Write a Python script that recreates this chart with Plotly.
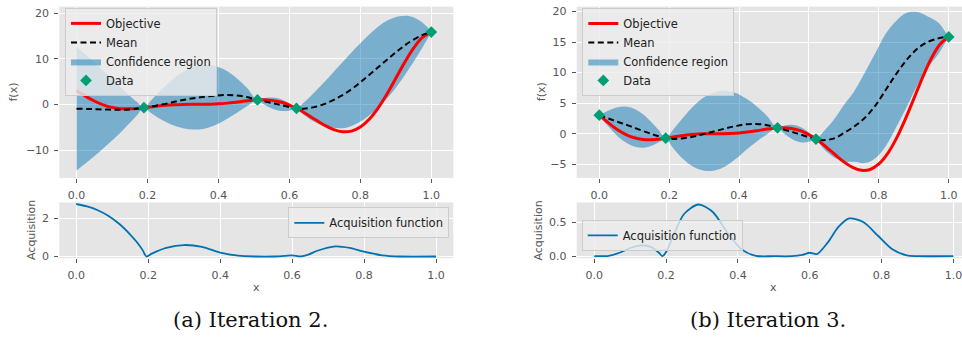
import plotly.graph_objects as go

# ---------------- data ----------------
X_OBJ = [0.0, 0.025, 0.05, 0.075, 0.1, 0.125, 0.15, 0.175, 0.2, 0.225, 0.25, 0.275,
         0.3, 0.325, 0.35, 0.375, 0.4, 0.425, 0.45, 0.475, 0.5, 0.525, 0.55, 0.575,
         0.6, 0.625, 0.65, 0.675, 0.7, 0.725, 0.75, 0.775, 0.8, 0.825, 0.85, 0.875,
         0.9, 0.925, 0.95, 0.975, 1.0]
OBJECTIVE = [3.03, 1.81, 0.74, -0.10, -0.66, -0.94, -0.98, -0.85, -0.64, -0.41, -0.21, -0.08,
             -0.02, 0.00, 0.00, 0.03, 0.11, 0.27, 0.48, 0.72, 0.91, 0.99, 0.87, 0.50,
             -0.15, -1.07, -2.21, -3.44, -4.61, -5.52, -5.99, -5.85, -4.95, -3.25, -0.80, 2.27,
             5.71, 9.19, 12.30, 14.65, 15.83]

X_GP = [0.00, 0.03, 0.06, 0.09, 0.12, 0.15, 0.17, 0.19,
        0.21, 0.24, 0.27, 0.30, 0.33, 0.36, 0.39, 0.42, 0.45, 0.48, 0.51,
        0.53, 0.55, 0.565, 0.58, 0.60, 0.62,
        0.64, 0.67, 0.70, 0.73, 0.76, 0.79, 0.82, 0.85, 0.88, 0.91, 0.94, 0.97, 0.99, 1.00]

# iteration 2 posterior: mean and half-width of the confidence region
MEAN_2 = [-0.95, -1.0, -1.08, -1.15, -1.2, -1.1, -0.95, -0.73,
          -0.5, -0.05, 0.45, 0.95, 1.35, 1.65, 1.9, 2.05, 1.95, 1.6, 0.96,
          0.65, 0.32, 0.05, -0.22, -0.58, -0.87,
          -0.95, -0.6, 0.1, 1.2, 2.5, 4.2, 6.1, 8.1, 10.1, 12.0, 13.7, 15.0, 15.6, 15.83]
HALF_2 = [13.55, 11.6, 9.6, 7.5, 5.3, 3.0, 1.5, 0.0,
          1.37, 3.3, 4.95, 6.17, 6.87, 6.97, 6.47, 5.41, 3.89, 2.03, 0.0,
          0.75, 1.2, 1.35, 1.25, 0.8, 0.0,
          1.3, 3.2, 4.9, 6.4, 7.6, 8.4, 8.8, 8.9, 8.4, 7.3, 5.6, 3.2, 1.2, 0.0]
DATA_X_2 = [0.19, 0.51, 0.62, 1.0]
DATA_Y_2 = [-0.73, 0.96, -0.87, 15.83]

# iteration 3 posterior
MEAN_3 = [3.03, 2.4, 1.8, 1.2, 0.55, -0.05, -0.4, -0.73,
          -0.85, -0.75, -0.45, -0.05, 0.4, 0.85, 1.25, 1.55, 1.6, 1.4, 0.96,
          0.65, 0.32, 0.05, -0.22, -0.58, -0.87,
          -1.05, -0.8, 0.1, 1.2, 2.6, 4.6, 7.2, 9.8, 12.1, 13.9, 15.0, 15.6, 15.8, 15.83]
HALF_3 = [0.0, 1.47, 2.6, 3.09, 2.85, 1.9, 1.0, 0.0,
          1.4, 3.4, 5.0, 6.0, 6.4, 6.2, 5.4, 4.2, 2.9, 1.5, 0.0,
          0.7, 1.15, 1.3, 1.2, 0.75, 0.0,
          1.3, 3.0, 4.6, 5.8, 7.4, 8.6, 9.2, 8.7, 7.7, 6.0, 4.2, 2.6, 0.9, 0.0]
DATA_X_3 = [0.0, 0.19, 0.51, 0.62, 1.0]
DATA_Y_3 = [3.03, -0.73, 0.96, -0.87, 15.83]

# acquisition functions
ACQ_X_2 = [0.0, 0.03, 0.06, 0.09, 0.12, 0.15, 0.17, 0.185, 0.195, 0.21, 0.25, 0.30, 0.35, 0.40,
           0.45, 0.50, 0.55, 0.58, 0.60, 0.625, 0.645, 0.67, 0.72, 0.76, 0.80, 0.85, 0.90, 1.0]
ACQ_Y_2 = [2.75, 2.62, 2.42, 2.12, 1.7, 1.15, 0.72, 0.32, 0.0, 0.15, 0.45, 0.6, 0.5, 0.2,
           0.04, 0.0, 0.0, 0.03, 0.06, 0.01, 0.1, 0.3, 0.53, 0.45, 0.25, 0.06, 0.0, 0.0]
ACQ_X_3 = [0.0, 0.04, 0.07, 0.10, 0.13, 0.16, 0.18, 0.19, 0.20, 0.22, 0.25, 0.29, 0.33, 0.37,
           0.41, 0.45, 0.50, 0.55, 0.58, 0.60, 0.62, 0.65, 0.68, 0.71, 0.75, 0.79, 0.83, 0.87,
           0.90, 1.0]
ACQ_Y_3 = [0.0, 0.005, 0.05, 0.12, 0.16, 0.13, 0.05, 0.0, 0.06, 0.3, 0.62, 0.76, 0.65, 0.35,
           0.1, 0.005, 0.0, 0.0, 0.02, 0.05, 0.03, 0.2, 0.43, 0.555, 0.5, 0.3, 0.1, 0.01,
           0.0, 0.0]

X_TICKS = [0.0, 0.2, 0.4, 0.6, 0.8, 1.0]
CAPTIONS = ["(a) Iteration 2.", "(b) Iteration 3."]

# ---------------- styling ----------------
W, H = 962, 349
RED = "#FF0000"
BLUE = "#0072B2"
GREEN = "#009E73"
BAND = "rgba(0,114,178,0.47)"
TICK_GREY = "#555555"
FONT = "DejaVu Sans"


def fx(p):
    return p / W


def fy(p):
    return 1 - p / H


fig = go.Figure()


def add_gp_panel(xa, ya, legend, mean, half, dx, dy):
    lower = [m - h for m, h in zip(mean, half)]
    upper = [m + h for m, h in zip(mean, half)]
    fig.add_trace(go.Scatter(x=X_GP, y=lower, mode="lines", line=dict(width=0, shape="spline"),
                             showlegend=False, hoverinfo="skip", xaxis=xa, yaxis=ya,
                             legend=legend))
    fig.add_trace(go.Scatter(x=X_GP, y=upper, mode="lines", line=dict(width=0, shape="spline"),
                             fill="tonexty", fillcolor=BAND, name="Confidence region",
                             legendrank=3, xaxis=xa, yaxis=ya, legend=legend))
    fig.add_trace(go.Scatter(x=X_OBJ, y=OBJECTIVE, mode="lines", name="Objective",
                             line=dict(color=RED, width=3, shape="spline"),
                             legendrank=1, xaxis=xa, yaxis=ya, legend=legend))
    fig.add_trace(go.Scatter(x=X_GP, y=mean, mode="lines", name="Mean",
                             line=dict(color="black", width=2, dash="6px,3.5px", shape="spline"),
                             legendrank=2, xaxis=xa, yaxis=ya, legend=legend))
    fig.add_trace(go.Scatter(x=dx, y=dy, mode="markers", name="Data",
                             marker=dict(symbol="diamond", size=9, color=GREEN),
                             legendrank=4, xaxis=xa, yaxis=ya, legend=legend))


add_gp_panel("x", "y", "legend", MEAN_2, HALF_2, DATA_X_2, DATA_Y_2)
fig.add_trace(go.Scatter(x=ACQ_X_2, y=ACQ_Y_2, mode="lines", name="Acquisition function",
                         line=dict(color=BLUE, width=1.8, shape="spline", smoothing=0.8),
                         xaxis="x2", yaxis="y2", legend="legend3"))
add_gp_panel("x3", "y3", "legend2", MEAN_3, HALF_3, DATA_X_3, DATA_Y_3)
fig.add_trace(go.Scatter(x=ACQ_X_3, y=ACQ_Y_3, mode="lines", name="Acquisition function",
                         line=dict(color=BLUE, width=1.8, shape="spline", smoothing=0.8),
                         xaxis="x4", yaxis="y4", legend="legend4"))

axis_common = dict(showgrid=True, gridcolor="white", gridwidth=1, zeroline=False,
                   showline=False, ticks="outside", ticklen=4, tickwidth=1,
                   tickcolor=TICK_GREY, ticklabelstandoff=3, ticklabeloverflow="allow",
                   tickfont=dict(family=FONT, size=11, color=TICK_GREY))

top_dom = [fy(180), fy(5.7)]
bot_dom = [fy(261.7), fy(205)]
left_dom = [fx(59.3), fx(453.3)]
right_dom = [fx(576.7), 1.0]

fig.update_layout(
    xaxis=dict(axis_common, domain=left_dom, anchor="y", range=[-0.0485, 1.062],
               tickvals=X_TICKS, tickformat=".1f"),
    yaxis=dict(axis_common, domain=top_dom, anchor="x", range=[-16.1, 21.4],
               tickvals=[-10, 0, 10, 20]),
    xaxis2=dict(axis_common, domain=left_dom, anchor="y2", range=[-0.047, 1.048],
                tickvals=X_TICKS, tickformat=".1f"),
    yaxis2=dict(axis_common, domain=bot_dom, anchor="x2", range=[-0.09, 2.83],
                tickvals=[0, 2]),
    xaxis3=dict(axis_common, domain=right_dom, anchor="y3", range=[-0.0647, 1.038],
                tickvals=X_TICKS, tickformat=".1f"),
    yaxis3=dict(axis_common, domain=top_dom, anchor="x3", range=[-7.23, 20.8],
                tickvals=[-5, 0, 5, 10, 15, 20]),
    xaxis4=dict(axis_common, domain=right_dom, anchor="y4", range=[-0.049, 1.024],
                tickvals=X_TICKS, tickformat=".1f"),
    yaxis4=dict(axis_common, domain=bot_dom, anchor="x4", range=[-0.03, 0.79],
                tickvals=[0.0, 0.5], tickformat=".1f"),
)

legend_common = dict(bgcolor="rgba(236,236,236,0.8)", bordercolor="#CCCCCC", borderwidth=1,
                     font=dict(family=FONT, size=11.5, color="#222222"),
                     xanchor="left", yanchor="top", itemwidth=30, traceorder="normal")
fig.update_layout(
    legend=dict(legend_common, x=fx(65), y=fy(7)),
    legend2=dict(legend_common, x=fx(582.3), y=fy(7)),
    legend3=dict(legend_common, x=fx(288.3), y=fy(210)),
    legend4=dict(legend_common, x=fx(581.7), y=fy(222.7)),
)

label_font = dict(family=FONT, size=11, color=TICK_GREY)
annotations = [
    dict(text="f(x)", x=fx(13.3), y=fy(92.8), textangle=-90),
    dict(text="Acquisition", x=fx(31.7), y=fy(233.3), textangle=-90),
    dict(text="x", x=fx(256), y=fy(291.7)),
    dict(text="f(x)", x=fx(541), y=fy(92.8), textangle=-90),
    dict(text="Acquisition", x=fx(538.3), y=fy(233.3), textangle=-90),
    dict(text="x", x=fx(773.5), y=fy(291.7)),
]
for a in annotations:
    a.update(xref="paper", yref="paper", showarrow=False, font=label_font,
             xanchor="center", yanchor="middle")
cap_font = dict(family="DejaVu Serif", size=21, color="#111111")
annotations += [
    dict(text=CAPTIONS[0], x=fx(250), y=fy(325), xref="paper", yref="paper",
         showarrow=False, font=cap_font, xanchor="center", yanchor="middle"),
    dict(text=CAPTIONS[1], x=fx(768), y=fy(325), xref="paper", yref="paper",
         showarrow=False, font=cap_font, xanchor="center", yanchor="middle"),
]

fig.update_layout(
    width=W, height=H, margin=dict(l=0, r=0, t=0, b=0),
    paper_bgcolor="white", plot_bgcolor="#E5E5E5",
    annotations=annotations, font=dict(family=FONT),
)

fig.write_html("out.html")
